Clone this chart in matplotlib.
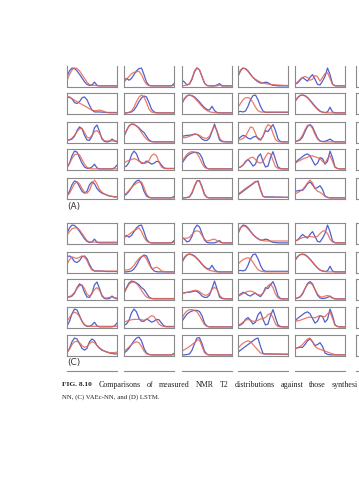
import matplotlib
matplotlib.use("Agg")
import matplotlib.pyplot as plt
import numpy as np
from matplotlib.lines import Line2D

# ---- data: 21 samples per curve (T2 bins), 5 panels per row ----
# measured (blue), shared by blocks A and C
blue_row1 = [
    [.5,.8,.95,.93,.8,.62,.42,.22,.08,.02,.05,.2,.03,0,0,0,0,0,0,0,0],
    [.3,.4,.3,.4,.6,.8,.92,.95,.6,.2,.03,0,0,0,0,0,0,0,0,0,.12],
    [.3,.2,.05,.1,.35,.75,.95,.85,.5,.15,.02,0,0,0,.05,.12,0,0,0,0,0],
    [.5,.8,.95,.92,.8,.62,.45,.32,.22,.15,.15,.2,.17,.08,.03,.02,0,0,0,0,0],
    [.1,.15,.3,.45,.35,.25,.45,.6,.35,.08,.05,.25,.5,.95,.6,.1,0,0,0,0,0],
]
blue_row2 = [
    [.8,.85,.75,.55,.5,.6,.8,.85,.7,.4,.15,.05,.05,.05,.04,.03,.02,.02,.02,.02,.02],
    [0,0,.02,.05,.15,.35,.6,.8,.9,.85,.55,.2,.05,.01,0,0,0,0,0,0,0],
    [.5,.75,.9,.95,.92,.85,.72,.58,.42,.28,.18,.15,.35,.12,.02,0,0,0,0,0,0],
    [.05,.08,.05,.1,.35,.7,.92,.95,.7,.35,.1,.03,.03,.03,.03,.03,.03,.03,.03,.03,.03],
    [.6,.8,.92,.95,.92,.82,.68,.52,.36,.22,.1,.04,.02,.05,.3,.05,0,0,0,0,0],
]
blue_row3 = [
    [.1,.1,.15,.3,.6,.8,.7,.35,.1,.08,.3,.75,.9,.55,.15,.02,0,.02,.15,.05,0],
    [.3,.6,.85,.95,.92,.85,.75,.6,.5,.3,.1,.02,0,0,0,0,0,0,0,0,0],
    [.3,.32,.35,.35,.38,.42,.4,.3,.15,.08,.08,.2,.55,.95,.55,.1,.02,0,0,0,0],
    [.15,.25,.35,.3,.2,.15,.25,.3,.2,.12,.3,.6,.55,.75,.92,.6,.15,.02,0,0,0],
    [.02,.05,.1,.25,.55,.82,.92,.8,.5,.2,.05,.02,.03,.08,.15,.05,0,0,0,0,0],
]
blue_row4 = [
    [.05,.3,.7,.95,.9,.6,.3,.1,.03,.03,.1,.25,.05,0,0,0,0,0,0,.05,.2],
    [.1,.15,.35,.75,.95,.8,.45,.3,.3,.42,.35,.25,.3,.4,.38,.2,.05,.02,.02,.02,.02],
    [.3,.5,.68,.78,.85,.88,.88,.82,.6,.2,.03,0,0,0,0,0,0,0,0,0,0],
    [.05,.1,.2,.4,.5,.35,.15,.25,.65,.8,.4,.1,.15,.6,.92,.5,.1,.02,0,0,0],
    [.3,.45,.55,.65,.75,.8,.7,.45,.2,.3,.6,.55,.25,.4,.95,.6,.1,.02,0,0,0],
]
blue_row5 = [
    [.1,.35,.7,.9,.85,.6,.35,.25,.35,.7,.85,.75,.5,.35,.25,.2,.15,.1,.08,.05,.05],
    [.1,.2,.35,.55,.75,.9,.95,.75,.35,.1,.02,0,0,0,0,0,0,0,0,0,.08],
    [0,0,.02,.05,.25,.6,.9,.92,.6,.2,.03,0,0,0,0,0,0,0,0,0,0],
    [.15,.25,.35,.45,.55,.65,.75,.85,.9,.45,.08,.05,.05,.05,.05,.04,.04,.04,.03,.03,.03],
    [.35,.38,.4,.4,.55,.75,.85,.7,.5,.55,.65,.45,.1,.03,0,0,0,0,0,0,0],
]

# synthesized (red), block A
red_A_row1 = [
    [.3,.6,.85,.95,.93,.8,.6,.4,.2,.07,.02,.03,.01,0,0,0,0,0,0,0,0],
    [.2,.35,.5,.65,.72,.75,.78,.6,.3,.08,.01,0,0,0,0,0,0,0,0,0,.03],
    [0,.02,.05,.12,.4,.8,.97,.85,.5,.15,.02,0,0,0,0,.05,0,0,0,0,0],
    [.55,.85,.95,.9,.78,.6,.45,.35,.27,.2,.15,.12,.1,.08,.06,.05,.05,.04,.03,.02,.02],
    [.1,.2,.35,.45,.5,.45,.3,.35,.55,.5,.25,.45,.65,.7,.4,.08,.02,0,0,0,0],
]
red_A_row2 = [
    [.9,.82,.75,.68,.6,.52,.45,.38,.3,.22,.15,.12,.12,.15,.12,.06,.02,0,0,0,0],
    [0,0,.03,.1,.3,.6,.85,.95,.85,.55,.2,.05,.01,0,0,0,0,0,0,0,0],
    [.55,.78,.92,.95,.9,.8,.65,.5,.35,.22,.12,.06,.03,.01,0,0,0,0,0,0,0],
    [.3,.5,.7,.8,.82,.75,.55,.3,.12,.05,.04,.04,.04,.04,.04,.04,.04,.04,.04,.04,.04],
    [.6,.82,.93,.95,.9,.8,.65,.48,.32,.18,.08,.03,.01,0,0,0,0,0,0,0,0],
]
red_A_row3 = [
    [.1,.12,.2,.35,.55,.7,.72,.5,.25,.2,.35,.55,.6,.45,.2,.05,.05,.05,.05,.05,.05],
    [.3,.6,.85,.95,.95,.85,.7,.5,.3,.15,.05,.01,0,0,0,0,0,0,0,0,0],
    [.25,.22,.25,.3,.35,.4,.4,.35,.25,.2,.2,.3,.6,.85,.6,.2,.05,.02,0,0,0],
    [.1,.12,.18,.3,.55,.8,.75,.45,.15,.08,.3,.7,.92,.85,.45,.12,.02,0,0,0,0],
    [.02,.05,.15,.35,.65,.88,.9,.72,.4,.15,.04,.01,0,0,0,0,0,0,0,0,0],
]
red_A_row4 = [
    [.1,.3,.55,.75,.8,.75,.5,.25,.08,.02,0,0,0,0,0,0,0,0,0,0,0],
    [.3,.4,.45,.5,.55,.5,.4,.35,.3,.32,.45,.7,.8,.7,.35,.1,.03,.02,.02,.02,.02],
    [.35,.6,.78,.88,.92,.9,.82,.6,.3,.08,.02,0,0,0,0,0,0,0,0,0,0],
    [.05,.1,.2,.35,.5,.6,.62,.5,.35,.3,.4,.65,.85,.8,.45,.12,.02,0,0,0,0],
    [.3,.38,.45,.52,.58,.62,.68,.7,.65,.6,.55,.4,.3,.55,.7,.4,.08,.02,0,0,0],
]
red_A_row5 = [
    [.1,.25,.5,.75,.85,.75,.5,.3,.25,.4,.75,.95,.75,.45,.3,.2,.15,.1,.08,.05,.05],
    [.15,.25,.4,.55,.68,.78,.85,.85,.55,.2,.04,0,0,0,0,0,0,0,0,0,0],
    [0,0,.02,.06,.3,.65,.92,.9,.55,.15,.02,0,0,0,0,0,0,0,0,0,0],
    [.2,.3,.4,.5,.6,.68,.78,.88,.85,.4,.08,.03,.03,.03,.03,.03,.03,.03,.03,.03,.03],
    [.2,.28,.35,.45,.6,.8,.95,.8,.5,.35,.3,.2,.08,.02,0,0,0,0,0,0,0],
]

# synthesized (red), block C
red_C_row1 = [
    [.4,.6,.75,.8,.8,.7,.5,.3,.12,.05,.04,.04,.04,.04,.04,.04,.04,.04,.04,.04,.04],
    [.3,.35,.45,.55,.65,.72,.8,.6,.3,.1,.03,0,0,0,0,0,0,0,0,0,.02],
    [.2,.25,.25,.3,.45,.6,.65,.6,.4,.2,.1,.12,.18,.2,.12,.05,.02,0,0,0,0],
    [.5,.8,.9,.88,.75,.6,.45,.32,.22,.15,.12,.1,.1,.1,.1,.1,.1,.1,.1,.1,.1],
    [.1,.15,.22,.28,.3,.32,.35,.32,.3,.35,.5,.62,.65,.5,.2,.05,.02,0,0,0,0],
]
red_C_row2 = [
    [.4,.65,.8,.75,.72,.78,.85,.8,.6,.3,.1,.04,.04,.04,.04,.04,.04,.04,.04,.04,.04],
    [.08,.1,.12,.2,.35,.55,.72,.82,.85,.7,.4,.18,.2,.25,.18,.05,.02,0,0,0,0],
    [.55,.8,.92,.95,.9,.82,.7,.55,.4,.25,.15,.08,.05,.02,0,0,0,0,0,0,0],
    [.4,.55,.65,.72,.75,.7,.5,.3,.12,.04,.02,0,0,0,0,0,0,0,0,0,0],
    [.62,.82,.92,.93,.9,.8,.66,.5,.35,.2,.1,.05,.02,0,0,0,0,0,0,0,0],
]
red_C_row3 = [
    [.1,.12,.2,.35,.55,.7,.75,.55,.25,.15,.3,.5,.6,.45,.2,.05,.05,.08,.1,.05,.05],
    [.3,.55,.78,.88,.9,.82,.65,.45,.25,.1,.04,.02,.02,.02,.02,.02,.02,.02,.02,.02,.02],
    [.3,.32,.35,.38,.42,.45,.45,.38,.28,.2,.2,.3,.5,.62,.5,.2,.05,.02,0,0,0],
    [.15,.2,.28,.35,.4,.42,.38,.3,.22,.2,.3,.5,.7,.8,.6,.25,.05,0,0,0,0],
    [.02,.05,.12,.3,.55,.78,.85,.75,.5,.25,.12,.1,.15,.18,.12,.04,0,0,0,0,0],
]
red_C_row4 = [
    [.3,.5,.7,.78,.72,.55,.3,.12,.05,.03,.03,.03,.03,.03,.03,.03,.03,.03,.03,.03,.03],
    [.25,.3,.35,.38,.4,.4,.4,.38,.35,.4,.5,.6,.55,.35,.15,.05,.02,0,0,0,0],
    [.45,.7,.85,.92,.92,.88,.8,.6,.35,.12,.03,0,0,0,0,0,0,0,0,0,0],
    [.1,.15,.25,.35,.4,.35,.3,.3,.35,.42,.45,.5,.65,.72,.5,.15,.02,0,0,0,0],
    [.3,.32,.35,.4,.45,.5,.52,.5,.48,.55,.6,.55,.55,.7,.8,.45,.1,.02,0,0,0],
]
red_C_row5 = [
    [.15,.3,.55,.7,.72,.65,.5,.4,.45,.6,.7,.65,.5,.38,.28,.2,.15,.12,.12,.12,.15],
    [.2,.3,.42,.55,.65,.7,.65,.45,.2,.06,.02,0,0,0,0,0,0,0,0,0,0],
    [.2,.28,.36,.45,.55,.65,.78,.8,.45,.12,.02,0,0,0,0,0,0,0,0,0,0],
    [.35,.5,.62,.7,.75,.7,.55,.4,.25,.1,.05,.04,.04,.04,.04,.04,.04,.04,.04,.04,.04],
    [.3,.38,.45,.55,.7,.85,.9,.7,.45,.35,.3,.25,.2,.15,.1,.05,.02,0,0,0,0],
]

block_labels = ["(A)", "(C)"]
caption_bold = "FIG. 8.10"
caption_line1 = "Comparisons of measured NMR T2 distributions against those synthesi"
caption_line2 = "NN, (C) VAEc-NN, and (D) LSTM."

blue_rows = [blue_row1, blue_row2, blue_row3, blue_row4, blue_row5]
red_blocks = [
    [red_A_row1, red_A_row2, red_A_row3, red_A_row4, red_A_row5],
    [red_C_row1, red_C_row2, red_C_row3, red_C_row4, red_C_row5],
]

# ---- layout (pixels) ----
W, H = 359, 480
fig = plt.figure(figsize=(W / 100, H / 100), dpi=100)
fig.patch.set_facecolor("white")

col_x = [67, 124, 182, 238, 295, 356]
pw, ph = 50, 21
block_tops = [[66, 93, 122, 149, 178], [223, 252, 279, 307, 335]]
label_y = [207, 362]

BLUE = "#3f4fc4"
RED = "#e8644e"
EDGE = "#8a8a8a"

def px_axes(x, top, w, h):
    return fig.add_axes([x / W, 1 - (top + h) / H, w / W, h / H])

for b in range(2):
    for r in range(5):
        for c in range(6):
            ax = px_axes(col_x[c], block_tops[b][r], pw, ph)
            ax.set_xticks([]); ax.set_yticks([])
            ax.set_xlim(0, 20)
            ax.set_ylim(-0.06, 1.06)
            for s in ax.spines.values():
                s.set_color(EDGE)
                s.set_linewidth(0.8)
            if b == 0 and r == 0:
                ax.spines["top"].set_visible(False)
            if c < 5:
                bl = blue_rows[r][c]
                rd = red_blocks[b][r][c]
                ax.plot(np.arange(len(bl)), bl, color=BLUE, lw=0.9, alpha=0.9)
                ax.plot(np.arange(len(rd)), rd, color=RED, lw=0.9, alpha=0.85)
    fig.text(67 / W, 1 - label_y[b] / H, block_labels[b], fontsize=6.5,
             family="DejaVu Sans", color="#333333", va="center", ha="left")

# top edges of the next block (cut off by the page crop)
for c in range(6):
    fig.add_artist(Line2D([col_x[c] / W, (col_x[c] + pw) / W],
                          [1 - 371 / H, 1 - 371 / H],
                          color=EDGE, lw=0.8, transform=fig.transFigure))

# caption: size chosen so line 2 spans ~97 px as in the reference
renderer = fig.canvas.get_renderer()
def text_width(s, fs, **kw):
    t = fig.text(0, 0, s, fontsize=fs, family="Liberation Serif", **kw)
    w = t.get_window_extent(renderer).width
    t.remove()
    return w

fs = 10 * 97 / text_width(caption_line2, 10)
fs1 = fs * 1.2
cap_kw = dict(family="Liberation Serif", va="center", ha="left", color="#222222")

fig.text(62 / W, 1 - 385 / H, caption_bold, fontsize=fs * 1.1, weight="bold", **cap_kw)

# line 1 is justified on the page: spread its words from x=98.5 to x=358
words = caption_line1.split(" ")
widths = [text_width(w_, fs1) for w_ in words]
x0, x1 = 98.5, 358.0
gap = (x1 - x0 - sum(widths)) / (len(words) - 1)
x = x0
for w_, wd in zip(words, widths):
    fig.text(x / W, 1 - 385 / H, w_, fontsize=fs1, **cap_kw)
    x += wd + gap

fig.text(62 / W, 1 - 397 / H, caption_line2, fontsize=fs, **cap_kw)

fig.savefig("out.png", dpi=100, facecolor="white")
